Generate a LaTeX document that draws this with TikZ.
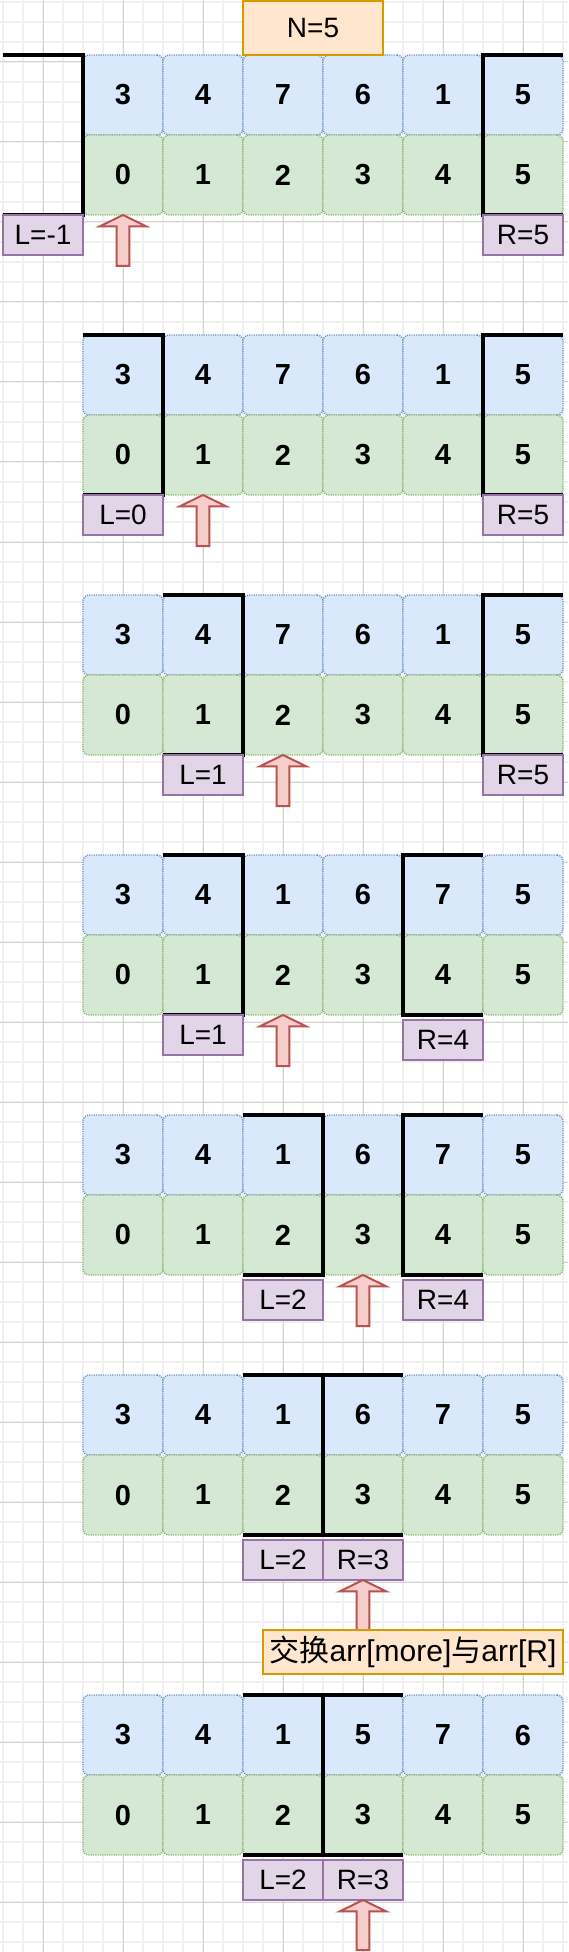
\documentclass[tikz,border=0pt]{standalone}
\usepackage{fontspec}
\setmainfont{Liberation Sans}
\newfontfamily\cjk{Noto Sans CJK SC}
\definecolor{blueF}{HTML}{DAE8FC}
\definecolor{blueS}{HTML}{6C8EBF}
\definecolor{greenF}{HTML}{D5E8D4}
\definecolor{greenS}{HTML}{82B366}
\definecolor{purF}{HTML}{E1D5E7}
\definecolor{purS}{HTML}{9673A6}
\definecolor{oraF}{HTML}{FFE6CC}
\definecolor{oraS}{HTML}{D79B00}
\definecolor{redF}{HTML}{F8CECC}
\definecolor{redS}{HTML}{B85450}
\definecolor{gridMinor}{HTML}{F1F1F1}
\definecolor{gridMajor}{HTML}{D3D3D3}
\tikzset{
  cellbase/.style={rounded corners=3pt, line width=0.7pt, dash pattern=on 0.55pt off 0.6pt,
    minimum width=40pt, minimum height=40pt, inner sep=0pt, outer sep=0pt,
    font=\fontsize{14.5}{16}\selectfont\bfseries},
  cellv/.style={cellbase, draw=blueS, fill=blueF},
  celli/.style={cellbase, draw=greenS, fill=greenF},
  lab/.style={draw=purS, fill=purF, line width=1pt, minimum width=40pt, minimum height=20pt,
    inner sep=0pt, outer sep=0pt, font=\fontsize{14}{16}\selectfont},
  note/.style={draw=oraS, fill=oraF, line width=1pt, inner sep=0pt, outer sep=0pt},
  brk/.style={draw=black, line width=2.4pt, line join=miter},
  arr/.style={draw=redS, fill=redF, line width=1pt, line join=miter},
  minorline/.style={draw=gridMinor, line width=1pt},
  majorline/.style={draw=gridMajor, line width=0.5pt},
}
\newcommand\drawpanel[3]{%
  \foreach \v [count=\i from 0] in {#3} {
    \node[cellv] (v#1-\i) at ({123+80*\i},{#2+40}) {\v};
    \node[celli] (i#1-\i) at ({123+80*\i},{#2+120}) {\i};
  }}
\newcommand\lbrk[2]{%
  \draw[brk] (#1,#2) -- ({#1+80},#2) -- ({#1+80},{#2+160}) -- (#1,{#2+160});}
\newcommand\rbrk[2]{%
  \draw[brk] ({#1+80},#2) -- (#1,#2) -- (#1,{#2+160}) -- ({#1+80},{#2+160});}
\newcommand\uparr[3]{%
  \draw[arr] (#1,#2) -- ({#1+23.3},{#2+11.4}) -- ({#1+6.3},{#2+11.4}) -- ({#1+6.3},{#2+#3})
    -- ({#1-6.3},{#2+#3}) -- ({#1-6.3},{#2+11.4}) -- ({#1-23.3},{#2+11.4}) -- cycle;}
\begin{document}
\begin{tikzpicture}[x=0.5pt, y=-0.5pt]
\useasboundingbox (0,0) rectangle (568,1952);
\fill[white] (0,0) rectangle (568,1952);
% grid
\foreach \x in {3,23,...,563} \draw[minorline] (\x,0) -- (\x,1952);
\foreach \y in {2,22,...,1942} \draw[minorline] (0,\y) -- (568,\y);
\foreach \x in {43,123,...,523} \draw[majorline] (\x,0) -- (\x,1952);
\foreach \y in {62,142,...,1902} \draw[majorline] (0,\y) -- (568,\y);

% panel 1
\drawpanel{1}{55}{3,4,7,6,1,5}
\lbrk{3}{55}
\rbrk{483}{55}
\node[lab, anchor=north west] (l1) at (3,215) {L=-1};
\node[lab, anchor=north west] (r1) at (483,215) {R=5};
\uparr{123}{215}{51}
\node[note, minimum width=70pt, minimum height=27pt] (n) at (313,28) {\fontsize{14}{16}\selectfont N=5};

% panel 2
\drawpanel{2}{335}{3,4,7,6,1,5}
\lbrk{83}{335}
\rbrk{483}{335}
\node[lab, anchor=north west] (l2) at (83,495) {L=0};
\node[lab, anchor=north west] (r2) at (483,495) {R=5};
\uparr{203}{495}{51}

% panel 3
\drawpanel{3}{595}{3,4,7,6,1,5}
\lbrk{163}{595}
\rbrk{483}{595}
\node[lab, anchor=north west] (l3) at (163,755) {L=1};
\node[lab, anchor=north west] (r3) at (483,755) {R=5};
\uparr{283}{755}{51}

% panel 4
\drawpanel{4}{855}{3,4,1,6,7,5}
\lbrk{163}{855}
\rbrk{403}{855}
\node[lab, anchor=north west] (l4) at (163,1015) {L=1};
\node[lab, anchor=north west] (r4) at (403,1020) {R=4};
\uparr{283}{1015}{51}

% panel 5
\drawpanel{5}{1115}{3,4,1,6,7,5}
\lbrk{243}{1115}
\rbrk{403}{1115}
\node[lab, anchor=north west] (l5) at (243,1280) {L=2};
\node[lab, anchor=north west] (r5) at (403,1280) {R=4};
\uparr{363}{1275}{51}

% panel 6
\drawpanel{6}{1375}{3,4,1,6,7,5}
\lbrk{243}{1375}
\rbrk{323}{1375}
\node[lab, anchor=north west] (l6) at (243,1540) {L=2};
\node[lab, anchor=north west] (r6) at (323,1540) {R=3};
\uparr{363}{1580}{50}
\node[note, minimum width=150pt, minimum height=22pt] (swap) at (413,1651.5)
  {\fontsize{15}{18}\selectfont{\cjk 交换}arr[more]{\cjk 与}arr[R]};

% panel 7
\drawpanel{7}{1695}{3,4,1,5,7,6}
\lbrk{243}{1695}
\rbrk{323}{1695}
\node[lab, anchor=north west] (l7) at (243,1860) {L=2};
\node[lab, anchor=north west] (r7) at (323,1860) {R=3};
\uparr{363}{1900}{50}
\end{tikzpicture}
\end{document}
